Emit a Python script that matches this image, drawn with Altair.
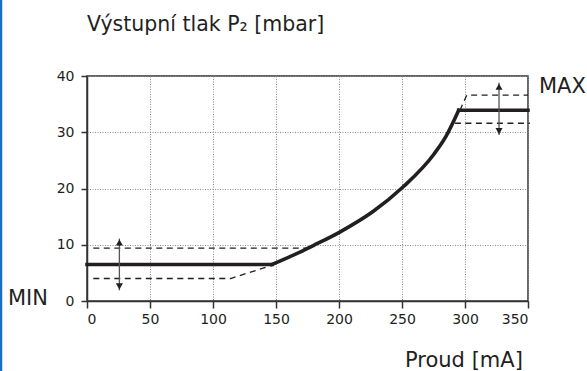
import altair as alt
import pandas as pd

# ---- data ----
flat_min_x = [0, 147]
flat_min_y = [6.5, 6.5]
curve_x = [147, 169, 180, 201, 227, 251, 275, 285, 295]
curve_y = [6.5, 8.7, 9.9, 12.3, 15.9, 20.3, 26.0, 29.3, 33.9]
flat_max_x = [295, 350]
flat_max_y = [33.9, 33.9]

min_upper_x = [5, 177]
min_upper_y = [9.4, 9.4]
min_lower_x = [5, 114, 146]
min_lower_y = [4.0, 4.0, 6.3]

max_upper_x = [296, 301.4, 350]
max_upper_y = [33.9, 36.6, 36.6]
max_lower_x = [292, 351.5]
max_lower_y = [31.6, 31.6]

arrow_x = [25.7, 327]
arrow_lo = [1.9, 29.5]
arrow_hi = [11.1, 38.8]
head_up_y = [10.4, 38.1]
head_dn_y = [2.6, 30.2]

x_ticks = [0, 50, 100, 150, 200, 250, 300, 350]
y_ticks = [0, 10, 20, 30, 40]

title_text = "Výstupní tlak P₂ [mbar]"
x_title_text = "Proud [mA]"

FONT = "DejaVu Sans"
INK = "#231f20"

W, H = 441, 225

xs = alt.Scale(domain=[0, 350], nice=False)
ys = alt.Scale(domain=[0, 40], nice=False)

x_axis = alt.Axis(values=x_ticks, grid=True, title=None, tickSize=7, tickWidth=1.5,
                  tickColor="#333", domainColor="#333", domainWidth=1.5,
                  labelFont=FONT, labelFontSize=14, labelColor=INK, labelPadding=4,
                  gridColor="#8a8a8a", gridDash=[1, 1.5], gridWidth=1)
y_axis = alt.Axis(values=y_ticks, grid=True, title=None, tickSize=6, tickWidth=1.5,
                  tickColor="#333", domainColor="#333", domainWidth=1.5,
                  labelFont=FONT, labelFontSize=14, labelColor=INK, labelPadding=7,
                  gridColor="#8a8a8a", gridDash=[1, 1.5], gridWidth=1)


def line_df(xv, yv):
    return pd.DataFrame({"x": xv, "y": yv})


base_axes = alt.Chart(line_df(curve_x, curve_y)).mark_line(opacity=0).encode(
    x=alt.X("x:Q", scale=xs, axis=x_axis),
    y=alt.Y("y:Q", scale=ys, axis=y_axis),
)


def dashed(xv, yv):
    return alt.Chart(line_df(xv, yv)).mark_line(
        color=INK, strokeWidth=1.3, strokeDash=[6, 4.5]
    ).encode(x=alt.X("x:Q", scale=xs), y=alt.Y("y:Q", scale=ys), order="x:Q")


def solid(xv, yv, interp):
    return alt.Chart(line_df(xv, yv)).mark_line(
        color=INK, strokeWidth=3.6, interpolate=interp, strokeCap="square"
    ).encode(x=alt.X("x:Q", scale=xs), y=alt.Y("y:Q", scale=ys), order="x:Q")


arrows_df = pd.DataFrame({"x": arrow_x, "lo": arrow_lo, "hi": arrow_hi,
                          "up": head_up_y, "dn": head_dn_y})
arrow_lines = alt.Chart(arrows_df).mark_rule(color="#555", strokeWidth=1.3).encode(
    x=alt.X("x:Q", scale=xs), y=alt.Y("lo:Q", scale=ys), y2="hi:Q")
heads_up = alt.Chart(arrows_df).mark_point(
    shape="triangle-up", filled=True, color=INK, size=50, opacity=1).encode(
    x=alt.X("x:Q", scale=xs), y=alt.Y("up:Q", scale=ys))
heads_dn = alt.Chart(arrows_df).mark_point(
    shape="triangle-down", filled=True, color=INK, size=50, opacity=1).encode(
    x=alt.X("x:Q", scale=xs), y=alt.Y("dn:Q", scale=ys))

one = pd.DataFrame({"a": [0]})


def label(text, px, py, size, align="left"):
    return alt.Chart(one).mark_text(
        text=text, font=FONT, fontSize=size, color=INK, align=align, baseline="alphabetic"
    ).encode(x=alt.value(px), y=alt.value(py))


title = label(title_text, 0, -45, 20.5)
xtitle = label(x_title_text, 318, 291, 21)
max_lbl = label("MAX", 452, 17, 21)
min_lbl = label("MIN", -79, 229, 21)

blue_edge = alt.Chart(one).mark_rule(color="#1a6fc4", strokeWidth=2.5).encode(
    x=alt.value(-86), y=alt.value(-76), y2=alt.value(295))

chart = alt.layer(
    base_axes,
    dashed(min_upper_x, min_upper_y),
    dashed(min_lower_x, min_lower_y),
    dashed(max_upper_x, max_upper_y),
    dashed(max_lower_x, max_lower_y),
    solid(flat_min_x, flat_min_y, "linear"),
    solid(curve_x, curve_y, "monotone"),
    solid(flat_max_x, flat_max_y, "linear"),
    arrow_lines, heads_up, heads_dn,
    title, xtitle, max_lbl, min_lbl, blue_edge,
).properties(
    width=W, height=H,
    autosize=alt.AutoSizeParams(type="none"),
    padding={"left": 87, "top": 76, "right": 59, "bottom": 70},
    background="white",
).configure_view(stroke="#333", strokeWidth=1.5)

chart.save("out.html", embed_options={"renderer": "svg", "actions": False})
